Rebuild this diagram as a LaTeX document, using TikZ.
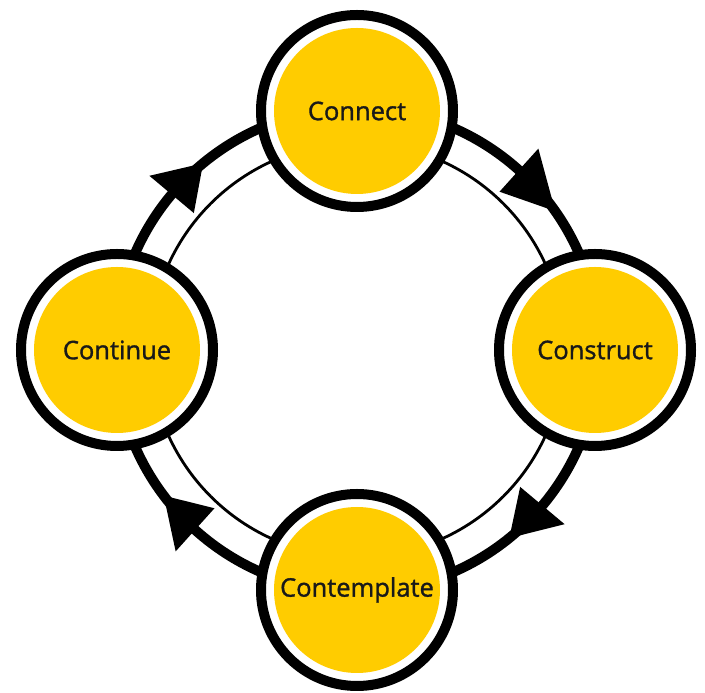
\documentclass[tikz,border=0pt]{standalone}
\usepackage{fontspec}
\setmainfont{Open Sans}
\newfontfamily\stagefont{Open Sans}[FakeBold=1.3]
\definecolor{ylw}{HTML}{FFCC00}
\begin{document}
\begin{tikzpicture}[x=1pt,y=1pt,
  stage/.style={circle, draw=black, line width=10pt, fill=white,
    minimum size=192pt, inner sep=0pt, text=black!90,
    font=\stagefont\fontsize{25.5}{30}\selectfont,
    path picture={\fill[ylw] (path picture bounding box.center) circle (83pt);}},
  outerring/.style={line width=10pt, draw=black},
  innerring/.style={line width=2.8pt, draw=black},
  head/.style={fill=black}]
\useasboundingbox (0,0) rectangle (705,693);
\coordinate (c) at (357,343);
% cycle rings
\draw[outerring] (c) circle (242);
\draw[innerring] (c) circle (207);
% arrowheads (clockwise)
\foreach \b/\t in {140/129.5, 48/35, -40/-51, -132/-143}{
  \fill[head] ([shift={(\b:213)}]c) -- ([shift={(\b:271)}]c) -- ([shift={(\t:242)}]c) -- cycle;
}
% stages
\node[stage] (connect) at (357,582) {Connect};
\node[stage] (construct) at (595,343) {Construct};
\node[stage] (contemplate) at (357,103) {Contemplate};
\node[stage] (continue) at (117,343) {Continue};
\end{tikzpicture}
\end{document}
